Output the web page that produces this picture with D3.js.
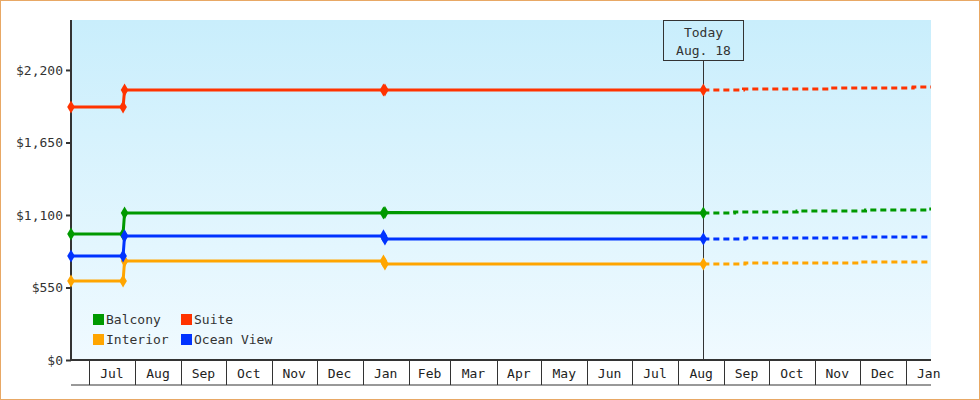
<!DOCTYPE html><html><head><meta charset="utf-8"><script src="https://cdn.jsdelivr.net/npm/d3@7"></script>
<style>body{margin:0}svg{display:block;font-family:"DejaVu Sans Mono",monospace}</style></head><body><svg id="c" width="980" height="400"></svg>
<script>
const seriesNames=["Balcony","Suite","Interior","Ocean View"];
const colors=["#009900","#ff3300","#ffa500","#0033ff"];
const histDates=["2024-06-19","2024-07-24","2024-07-25","2025-01-15","2025-01-16","2025-08-18"];
const histValues={
 "Balcony":[956,956,1115,1115,1119,1115],
 "Suite":[1919,1919,2048,2048,2048,2048],
 "Interior":[599,599,751,751,728,728],
 "Ocean View":[789,789,941,941,918,918]};
const histMarkers=[0,1,2,3,4,5];
const fcDates={
 "Balcony":["2025-08-18","2025-09-08","2025-10-20","2025-12-05","2026-01-15"],
 "Suite":["2025-08-18","2025-09-14","2025-11-10","2026-01-06"],
 "Interior":["2025-08-18","2025-09-15","2025-12-01"],
 "Ocean View":["2025-08-18","2025-09-15","2025-12-01"]};
const fcValues={
 "Balcony":[1115,1123,1130,1138,1146],
 "Suite":[2048,2056,2064,2071],
 "Interior":[728,736,743],
 "Ocean View":[918,926,933]};
const yTicks=[0,550,1100,1650,2200];
const monthLabels=["Jul","Aug","Sep","Oct","Nov","Dec","Jan","Feb","Mar","Apr","May","Jun","Jul","Aug","Sep","Oct","Nov","Dec","Jan"];
const todayDate="2025-08-18", todayLabel=["Today","Aug. 18"];

const P=d3.timeParse("%Y-%m-%d");
const svg=d3.select("#c");
const L=71,R=931,T=20,B=360;
svg.append("rect").attr("x",0.5).attr("y",0.5).attr("width",979).attr("height",399).attr("fill","#fff").attr("stroke","#e8a865");
const x=d3.scaleTime().domain([P("2024-06-19"),P("2026-01-18")]).range([L,R]);
const y=d3.scaleLinear().domain([0,2579]).range([B,T]);
const g=svg.append("defs").append("linearGradient").attr("id","bg").attr("x1",0).attr("x2",0).attr("y1",0).attr("y2",1);
g.append("stop").attr("offset",0).attr("stop-color","#c9eefc");
g.append("stop").attr("offset",1).attr("stop-color","#f0faff");
svg.append("rect").attr("x",L).attr("y",T).attr("width",R-L).attr("height",B-T).attr("fill","url(#bg)");
// y axis
const ya=svg.append("g").attr("transform",`translate(${L},0)`).call(d3.axisLeft(y).tickValues(yTicks).tickSize(5).tickFormat(d=>"$"+d3.format(",")(d)));
ya.select(".domain").attr("d",`M0,${T}V${B}`).attr("stroke","#333").attr("stroke-width",2);
ya.selectAll(".tick line").attr("stroke","#333").attr("stroke-width",2);
ya.selectAll("text").attr("font-size",13).attr("font-family","DejaVu Sans Mono").attr("fill","#333");
// x axis cells
const months=d3.timeMonth.range(P("2024-07-01"),P("2026-02-01"));
const xa=svg.append("g");
xa.append("line").attr("x1",L).attr("x2",R).attr("y1",B).attr("y2",B).attr("stroke","#333").attr("stroke-width",2);
xa.append("line").attr("x1",L).attr("x2",R).attr("y1",385).attr("y2",385).attr("stroke","#333");
months.forEach((m,i)=>{
 xa.append("line").attr("x1",Math.round(x(m))+0.5).attr("x2",Math.round(x(m))+0.5).attr("y1",B).attr("y2",385).attr("stroke","#333");
 const nx=i<months.length-1?x(months[i+1]):x(d3.timeMonth.offset(m,1));
 xa.append("text").attr("x",(x(m)+nx)/2).attr("y",378).attr("text-anchor","middle").attr("font-size",13).attr("fill","#222").text(monthLabels[i]);
});
// today line
const tx=Math.round(x(P(todayDate)))+0.5;
svg.append("line").attr("x1",tx).attr("x2",tx).attr("y1",60).attr("y2",B).attr("stroke","#333");
svg.append("rect").attr("x",tx-40).attr("y",20.5).attr("width",80).attr("height",40).attr("fill","none").attr("stroke","#333");
todayLabel.forEach((t,i)=>svg.append("text").attr("x",tx).attr("y",37+i*18).attr("text-anchor","middle").attr("font-size",13).attr("fill","#333").text(t));
const line=d3.line().x(d=>x(d[0])).y(d=>y(d[1]));
seriesNames.forEach((s,i)=>{
 const hd=histDates.map((d,j)=>[P(d),histValues[s][j]]);
 svg.append("path").attr("d",line(hd)).attr("fill","none").attr("stroke",colors[i]).attr("stroke-width",3);
 const fd=fcDates[s].map((d,j)=>[P(d),fcValues[s][j]]);
 const steps=[];fd.forEach((p,j)=>{if(j>0)steps.push([p[0],fd[j-1][1]]);steps.push(p);});
 steps.push([P("2026-01-18"),fd[fd.length-1][1]]);
 svg.append("path").attr("d",line(steps)).attr("fill","none").attr("stroke",colors[i]).attr("stroke-width",3).attr("stroke-dasharray","6,4");
 svg.selectAll(null).data(histMarkers.map(j=>hd[j])).enter().append("path")
  .attr("d",d3.symbol(d3.symbolDiamond,50)).attr("transform",d=>`translate(${x(d[0])},${y(d[1])})`).attr("fill",colors[i]);
});
// legend
seriesNames.forEach((s,i)=>{
 const lx=93+(i%2)*88, ly=314+Math.floor(i/2)*20;
 svg.append("rect").attr("x",lx).attr("y",ly).attr("width",11).attr("height",11).attr("fill",colors[i]);
 svg.append("text").attr("x",lx+13).attr("y",ly+10).attr("font-size",13).attr("fill","#333").text(s);
});
</script></body></html>
